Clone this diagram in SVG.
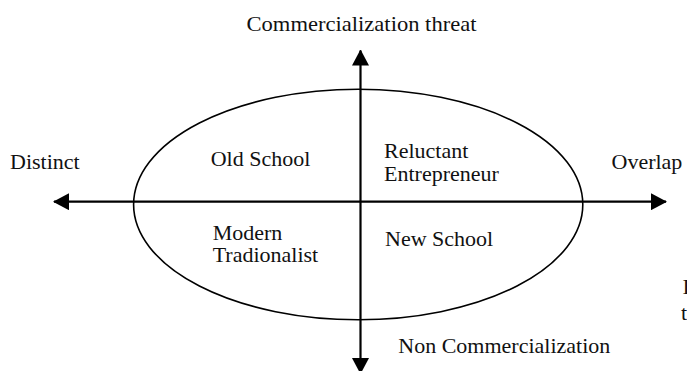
<svg xmlns="http://www.w3.org/2000/svg" width="687" height="371" viewBox="0 0 687 371">
<style>
text{font-family:"Liberation Serif","Times New Roman",serif;font-size:22px;fill:#111}
.axis{stroke:#000;stroke-width:2.2;fill:none}
.ell{stroke:#000;stroke-width:1.6;fill:none}
</style>
<defs>
<marker id="ah" markerUnits="userSpaceOnUse" viewBox="0 0 16 17" refX="15" refY="8.5" markerWidth="16" markerHeight="17" orient="auto-start-reverse">
<path d="M0,0 L16,8.5 L0,17 z" fill="#000"/>
</marker>
</defs>
<rect width="687" height="371" fill="#fff"/>
<g id="ellipse"><ellipse class="ell" cx="358.2" cy="204.5" rx="224.6" ry="115.3"/></g>
<g id="connectors">
<line class="axis" x1="54" y1="201.7" x2="666" y2="201.7" marker-start="url(#ah)" marker-end="url(#ah)"/>
<line class="axis" x1="360.5" y1="50.5" x2="360.5" y2="373" marker-start="url(#ah)" marker-end="url(#ah)"/>
</g>
<g id="label-top"><text x="246.5" y="30.5" textLength="230" lengthAdjust="spacingAndGlyphs">Commercialization threat</text></g>
<g id="label-left"><text x="10" y="169.3">Distinct</text></g>
<g id="label-right"><text x="611.5" y="169.3">Overlap</text></g>
<g id="label-bottom"><text x="398.3" y="353.3">Non Commercialization</text></g>
<g id="q-old-school"><text x="210.7" y="166">Old School</text></g>
<g id="q-reluctant"><text x="384" y="158.3">Reluctant<tspan x="384" dy="22.4">Entrepreneur</tspan></text></g>
<g id="q-modern"><text x="212.7" y="240">Modern<tspan x="212.7" dy="22.3">Tradionalist</tspan></text></g>
<g id="q-new-school"><text x="385" y="245.7">New School</text></g>
<g id="cut-text"><text x="682.5" y="294">I</text><text x="681" y="320">t</text></g>
</svg>
